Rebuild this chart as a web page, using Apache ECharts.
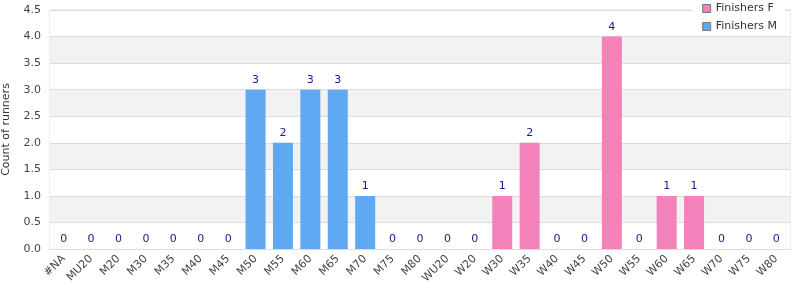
<!DOCTYPE html>
<html>
<head>
<meta charset="utf-8">
<script src="https://cdn.jsdelivr.net/npm/echarts@6/dist/echarts.min.js"></script>
<style>
  html, body { margin: 0; padding: 0; background: #fff; }
  #chart { width: 800px; height: 300px; }
</style>
</head>
<body>
<div id="chart"></div>
<script>
const categories = ["#NA", "MU20", "M20", "M30", "M35", "M40", "M45", "M50", "M55", "M60",
  "M65", "M70", "M75", "M80", "WU20", "W20", "W30", "W35", "W40", "W45", "W50", "W55",
  "W60", "W65", "W70", "W75", "W80"]

// null where the category belongs to the other series
const finishersM = [0, 0, 0, 0, 0, 0, 0, 3, 2, 3, 3, 1, 0, 0, null, null, null, null, null,
  null, null, null, null, null, null, null, null]
const finishersF = [null, null, null, null, null, null, null, null, null, null, null, null,
  null, null, 0, 0, 1, 2, 0, 0, 4, 0, 1, 1, 0, 0, 0]

const yTicks = { min: 0, max: 4.5, interval: 0.5 }

const chart = echarts.init(document.getElementById("chart"), undefined, { renderer: "canvas" })

const labelStyle = {
  show: true,
  position: "top",
  color: "#1a1a8c",
  fontFamily: "DejaVu Sans",
  fontSize: 11,
  distance: 4,
}

chart.setOption({
  animation: false,
  backgroundColor: "#fff",
  textStyle: { fontFamily: "DejaVu Sans" },
  grid: {
    left: 50,
    right: 10,
    top: 10,
    bottom: 51,
    outerBoundsMode: "none",
    containLabel: false,
    show: true,
    borderColor: "#dcdcdc",
    borderWidth: 1,
    backgroundColor: "transparent",
  },
  legend: {
    orient: "vertical",
    right: 15,
    top: 0,
    itemWidth: 8,
    itemHeight: 8,
    itemGap: 7,
    icon: "rect",
    backgroundColor: "#fff",
    padding: [3, 8, 3, 10],
    textStyle: { color: "#333", fontSize: 11, fontFamily: "DejaVu Sans" },
    itemStyle: { borderColor: "#777", borderWidth: 1 },
    data: ["Finishers F", "Finishers M"],
  },
  xAxis: {
    type: "category",
    data: categories,
    axisLine: { lineStyle: { color: "#dcdcdc" } },
    axisTick: { show: false },
    axisLabel: {
      interval: 0,
      rotate: 45,
      color: "#444",
      fontSize: 11,
      fontFamily: "DejaVu Sans",
      margin: 8,
    },
  },
  yAxis: {
    type: "value",
    min: yTicks.min,
    max: yTicks.max,
    interval: yTicks.interval,
    name: "Count of runners",
    nameLocation: "middle",
    nameGap: 38,
    nameTextStyle: { color: "#333", fontSize: 11, fontFamily: "DejaVu Sans" },
    axisLine: { show: false },
    axisTick: { show: false },
    axisLabel: {
      color: "#444",
      fontSize: 11,
      fontFamily: "DejaVu Sans",
      margin: 9,
      formatter: (v) => v.toFixed(1),
    },
    splitLine: { lineStyle: { color: "#dcdcdc" } },
    splitArea: { show: true, areaStyle: { color: ["#ffffff", "#f2f2f2"] } },
  },
  series: [
    {
      name: "Finishers F",
      type: "bar",
      stack: "total",
      barWidth: "73%",
      itemStyle: { color: "#f282b9" },
      label: labelStyle,
      data: finishersF,
    },
    {
      name: "Finishers M",
      type: "bar",
      stack: "total",
      barWidth: "73%",
      itemStyle: { color: "#61a8f2" },
      label: labelStyle,
      data: finishersM,
    },
  ],
})
</script>
</body>
</html>
